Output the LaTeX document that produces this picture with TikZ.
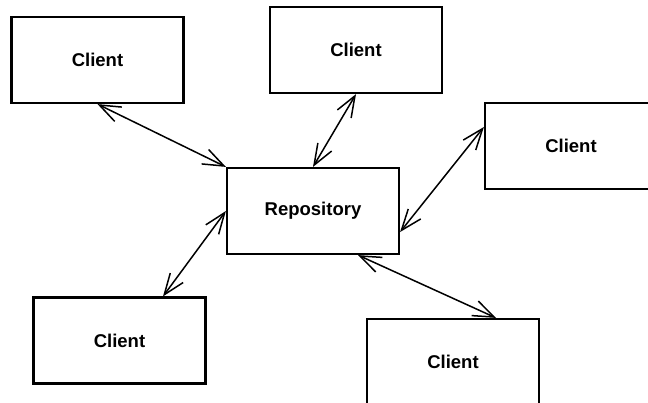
\documentclass[tikz,border=0pt]{standalone}
\usepackage{fontspec}
\setmainfont{Liberation Sans}
\usetikzlibrary{arrows.meta,calc}
\begin{document}
\begin{tikzpicture}[x=1pt,y=-1pt,
  box/.style={draw,line width=2.2pt,minimum width=172pt,minimum height=86pt,inner sep=0pt,
    font=\fontsize{18.5}{20}\selectfont\bfseries},
  barb/.style={Straight Barb[length=21pt,width=16pt,line width=1.5pt]},
  link/.style={line width=1.5pt,{Straight Barb[length=21pt,width=16pt,line width=1.5pt]}-{Straight Barb[length=21pt,width=16pt,line width=1.5pt]}}]
\clip (0,0) rectangle (648,402);
\fill[white] (0,0) rectangle (648,402);
\node[box] (c1) at (97.5,60) {Client};
\node[box] (c2) at (356,50) {Client};
\node[box] (c3) at (571,146) {Client};
\node[box] (repo) at (313,211) {Repository};
\node[box] (c4) at (119.5,340.5) {Client};
\node[box] (c5) at (453,362) {Client};
\draw[link] (c1.south) -- (repo.north west);
\draw[link] (c2.south) -- (repo.north);
\draw[link] ($(c3.west)+(0,-19)$) -- ($(repo.east)+(0,21)$);
\draw[link] ($(c4.north)+(43.5,0)$) -- (repo.west);
\draw[link] ($(c5.north)+(43,0)$) -- ($(repo.south)+(45,0)$);
\end{tikzpicture}
\end{document}
